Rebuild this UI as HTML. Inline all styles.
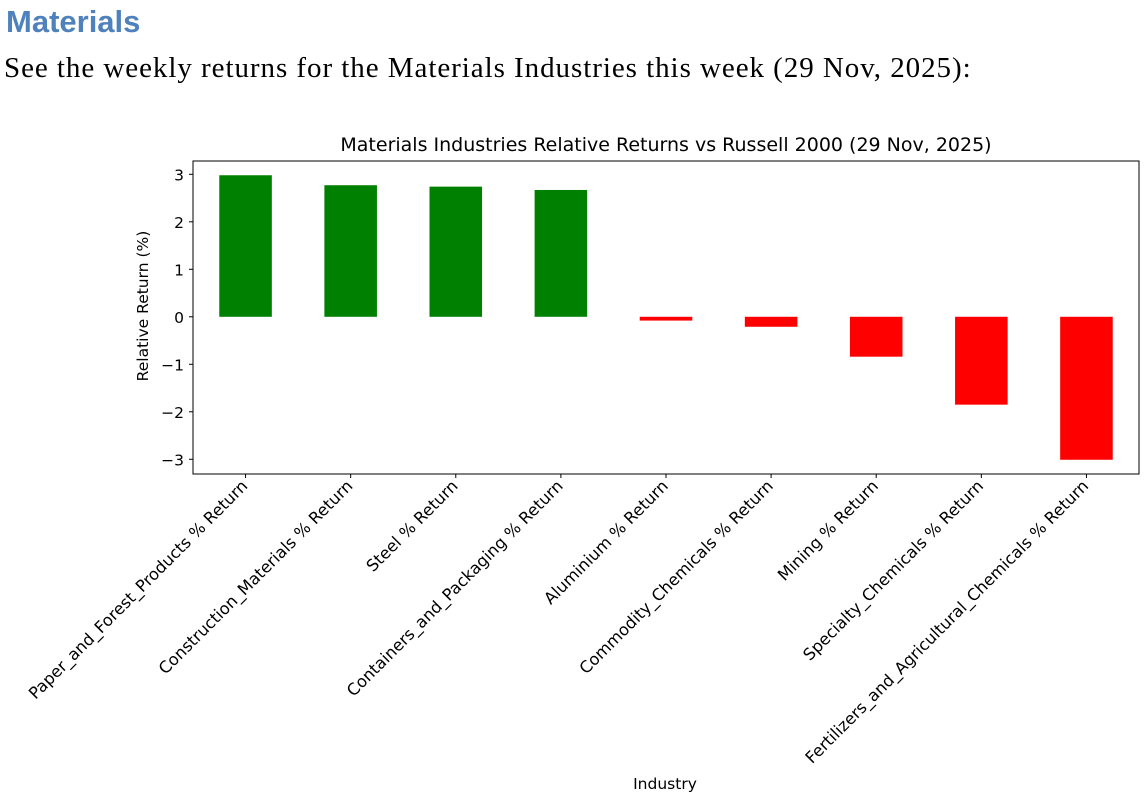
<!DOCTYPE html>
<html><head><meta charset="utf-8"><style>
body{margin:0;background:#fff;width:1144px;height:798px;overflow:hidden;position:relative}
#h{position:absolute;left:6px;top:4px;font:bold 31px "Liberation Sans",sans-serif;color:#4f81bd}
#s{position:absolute;left:4px;top:52px;font:29px "Liberation Serif",serif;color:#000;letter-spacing:0.95px;white-space:nowrap}
svg{position:absolute;left:0;top:0}
text{font-family:"DejaVu Sans","Liberation Sans",sans-serif;fill:#000}
</style></head><body>
<div id="h">Materials</div>
<div id="s">See the weekly returns for the Materials Industries this week (29 Nov, 2025):</div>
<svg id="c" width="1144" height="798"></svg>
<script>
const categories=["Paper_and_Forest_Products % Return","Construction_Materials % Return","Steel % Return","Containers_and_Packaging % Return","Aluminium % Return","Commodity_Chemicals % Return","Mining % Return","Specialty_Chemicals % Return","Fertilizers_and_Agricultural_Chemicals % Return"];
const values=[2.98,2.77,2.74,2.67,-0.08,-0.21,-0.84,-1.85,-3.01];
const yTicks=[-3,-2,-1,0,1,2,3];
const svg=document.getElementById('c'),NS='http://www.w3.org/2000/svg';
const L=193,R=1139,T=161,B=474;
const ymin=Math.min(...values)-0.3,ymax=Math.max(...values)+0.3;
const y=v=>B-(v-ymin)/(ymax-ymin)*(B-T);
const step=(R-L)/categories.length;
const x=i=>L+step*(i+0.5);
function el(t,a){const e=document.createElementNS(NS,t);for(const k in a)e.setAttribute(k,a[k]);svg.appendChild(e);return e;}
values.forEach((v,i)=>{
 const r=el('rect',{x:x(i)-step*0.25,y:Math.min(y(v),y(0)),width:step*0.5,height:Math.abs(y(v)-y(0)),fill:v>=0?'#008000':'#ff0000'});
 
 
});
const f=el('rect',{x:L,y:T,width:R-L,height:B-T,fill:'none',stroke:'#000','stroke-width':1});


yTicks.forEach(t=>{
 el('line',{x1:L-4,x2:L,y1:y(t),y2:y(t),stroke:'#000'});
 const tx=el('text',{x:L-9,y:y(t)+6,'text-anchor':'end','font-size':15.5});
 tx.textContent=t<0?'\u2212'+(-t):t;
 
 
});
categories.forEach((c,i)=>{
 el('line',{x1:x(i),x2:x(i),y1:B,y2:B+4,stroke:'#000'});
 const ax=x(i)+3,ay=B+13;
 const tx=el('text',{x:ax,y:ay,'text-anchor':'end','font-size':16.3,transform:`rotate(-45 ${ax} ${ay})`});
 tx.textContent=c;
 
 
});
const ti=el('text',{x:(L+R)/2,y:151,'text-anchor':'middle','font-size':19});
ti.textContent='Materials Industries Relative Returns vs Russell 2000 (29 Nov, 2025)';


const yl=el('text',{x:148,y:306,'text-anchor':'middle','font-size':15.5,transform:`rotate(-90 148 306)`});
yl.textContent='Relative Return (%)';


const xl=el('text',{x:665,y:789,'text-anchor':'middle','font-size':15.5});
xl.textContent='Industry';


</script>
</body></html>
